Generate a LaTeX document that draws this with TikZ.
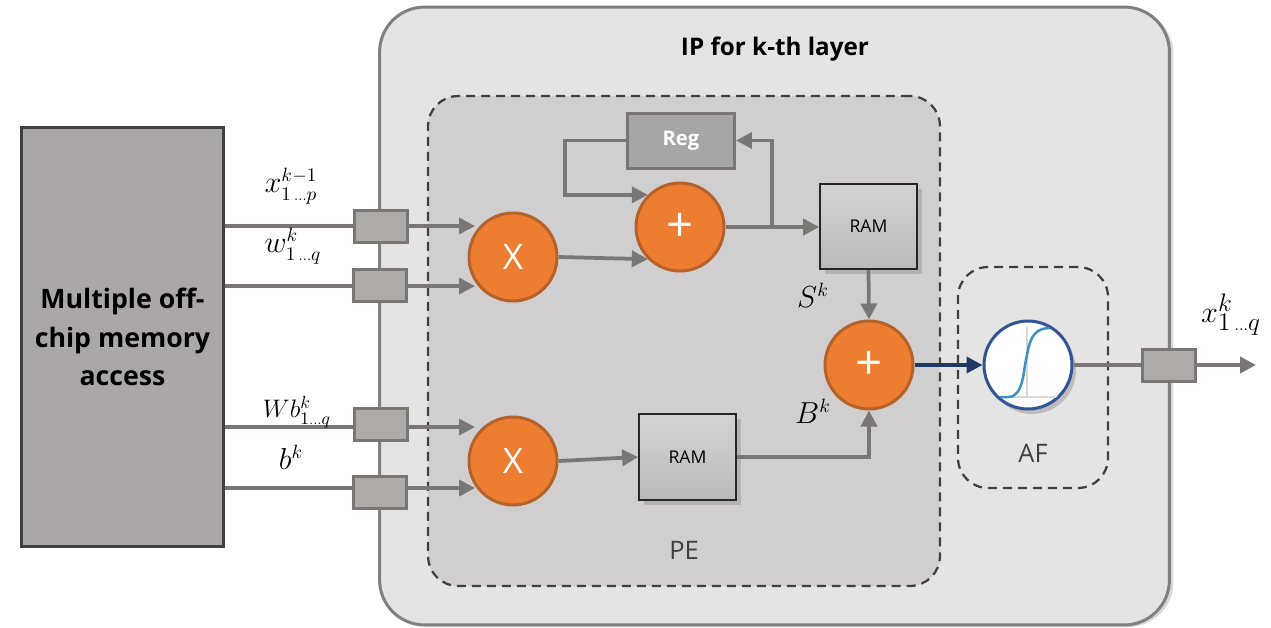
\documentclass[tikz,border=0pt]{standalone}
\usepackage{fontspec}
\setmainfont{Open Sans}
\usetikzlibrary{arrows.meta,shadows}
\definecolor{wirecol}{HTML}{7A7675}
\definecolor{latchcol}{HTML}{AEAAA8}
\definecolor{memcol}{HTML}{ABA7A6}
\definecolor{ipcol}{HTML}{E4E4E4}
\definecolor{pecol}{HTML}{D0CECF}
\definecolor{regcol}{HTML}{A6A6A6}
\definecolor{opcol}{HTML}{ED7D31}
\definecolor{opline}{HTML}{B5622A}
\definecolor{navycol}{HTML}{1F3864}
\definecolor{afline}{HTML}{2F5597}
\definecolor{curvecol}{HTML}{3F8FBF}
\definecolor{txtcol}{HTML}{404040}
\tikzset{
	wire/.style={draw=wirecol, line width=0.075cm},
	arrow/.style={wire, -{Triangle[length=0.32cm,width=0.32cm]}},
	latch/.style={draw=wirecol, fill=latchcol, line width=0.06cm, minimum width=1.07cm, minimum height=0.64cm, inner sep=0},
	op/.style={circle, draw=opline, fill=opcol, line width=0.06cm, minimum size=1.76cm, inner sep=0, text=white},
	ram/.style={draw=black!85, top color=black!17, bottom color=black!27, line width=0.035cm, minimum width=1.94cm, minimum height=1.71cm, inner sep=0, font=\fontsize{10}{12}\selectfont, drop shadow={shadow xshift=0.1cm, shadow yshift=-0.1cm, opacity=0.35}},
	group/.style={draw=txtcol, dash pattern=on 0.18cm off 0.12cm, line width=0.045cm, rounded corners=0.6cm},
	math/.style={inner sep=0, font=\fontsize{16}{18}\selectfont},
	caption/.style={inner sep=0, text=txtcol, font=\fontsize{14.5}{17}\selectfont}
}
\begin{document}
\begin{tikzpicture}[x=0.02cm, y=-0.02cm]
	\useasboundingbox (0,0) rectangle (1271,627);
	% containers
	\node (ip) at (774.5,316) [draw=black!50, fill=ipcol, line width=0.06cm, rounded corners=0.9cm, minimum width=15.8cm, minimum height=12.36cm, inner sep=0, drop shadow={shadow xshift=0.08cm, shadow yshift=-0.04cm, opacity=0.3}] {};
	\node (pe) at (684,341) [group, fill=pecol, minimum width=10.24cm, minimum height=9.8cm, inner sep=0] {};
	\node (af) at (1033,377.5) [group, minimum width=3cm, minimum height=4.42cm, inner sep=0] {};
	\node (mem) at (122.5,337) [draw=black!75, fill=memcol, line width=0.06cm, minimum width=4.06cm, minimum height=8.4cm, inner sep=0, align=center, font=\fontsize{15.2}{21.8}\selectfont\bfseries] {Multiple off-\\chip memory\\access};
	\node (iptitle) at (775,49) [inner sep=0, font=\fontsize{13.8}{15}\selectfont\bfseries] {IP for k-th layer};
	\node (pecap) at (684,550) [caption] {PE};
	\node (afcap) at (1033,453) [caption] {AF};

	% input latches
	\node (latA) at (381,226.5) [latch] {};
	\node (latB) at (380,285) [latch] {};
	\node (latC) at (381,424.5) [latch] {};
	\node (latD) at (380,492.5) [latch] {};
	\node (latE) at (1169,365) [latch] {};

	% operators
	\node (mulA) at (513,257) [op, font=\fontsize{20}{22}\selectfont] {X};
	\node (mulB) at (513,461) [op, font=\fontsize{20}{22}\selectfont] {X};
	\node (addA) at (680,227) [op, font=\fontsize{27}{29}\selectfont] {+};
	\node (addB) at (869,365) [op, font=\fontsize{27}{29}\selectfont] {+};
	\node (reg) at (681,140.5) [draw=wirecol, fill=regcol, line width=0.06cm, minimum width=2.14cm, minimum height=1.1cm, inner sep=0, text=white, font=\fontsize{11.5}{13}\selectfont\bfseries] {Reg};
	\node (ramS) at (868.5,226.5) [ram] {RAM};
	\node (ramB) at (687.5,457) [ram] {RAM};

	% activation function
	\node (sig) at (1028,365) [circle, draw=afline, fill=white, line width=0.06cm, minimum size=1.76cm, inner sep=0, drop shadow={shadow xshift=0.08cm, shadow yshift=-0.1cm, opacity=0.4}] {};
	\begin{scope}
		\clip (sig) circle (43);
		\draw [black!15, line width=0.03cm] (1027,327) -- (1027,397) (1000,397) -- (1060,397);
		\draw [curvecol, line width=0.05cm] (995,397) -- (1008,397) .. controls (1024,397) and (1023,370) .. (1027,355) .. controls (1030,336) and (1036,328) .. (1050,328);
	\end{scope}

	% inputs
	\foreach \lat/\row in {latA/226, latB/286, latC/427, latD/488}{
		\coordinate (in) at (0,\row);
		\draw [wire] (mem.east |- in) -- (\lat.west |- in);
		\draw [arrow] (\lat.east |- in) -- (475,\row);
	}

	% PE connectors
	\draw [arrow] (mulA.east) -- (addA.225);
	\draw [arrow] (reg.west) -- ++(-61,0) |- (addA.135);
	\coordinate (tap) at (772,227);
	\draw [arrow] (addA.east) -- (ramS.west |- addA.east);
	\draw [arrow] (tap) |- (reg.east);
	\draw [arrow] (ramS.south) -- (addB.north);
	\draw [arrow] (mulB.east) -- (ramB.west);
	\draw [arrow] (ramB.east) -| (addB.south);
	\draw [line width=0.075cm, draw=navycol, -{Triangle[length=0.32cm,width=0.32cm]}] (addB.east) -- (sig.west);

	% output
	\coordinate (out) at (1256,365);
	\draw [wire] (sig.east) -- (latE.west);
	\draw [arrow] (latE.east) -- (out);

	% labels
	\node (lblX) at (291,186) [math] {$x_{1\,{\scriptscriptstyle ...}p}^{k-1}$};
	\node (lblW) at (293,246) [math] {$w_{1\,{\scriptscriptstyle ...}q}^{k}$};
	\node (lblWb) at (297,412) [math, font=\fontsize{14.5}{17}\selectfont] {$Wb_{1{\scriptscriptstyle ...}q}^{k}$};
	\node (lblb) at (291,457) [math] {$b^{k}$};
	\node (lblS) at (813,295) [math] {$S^{k}$};
	\node (lblB) at (813,411) [math] {$B^{k}$};
	\node (lblOut) at (1231,315) [math, font=\fontsize{19}{21}\selectfont] {$x_{1\,{\scriptscriptstyle ...}q}^{k}$};
\end{tikzpicture}
\end{document}
